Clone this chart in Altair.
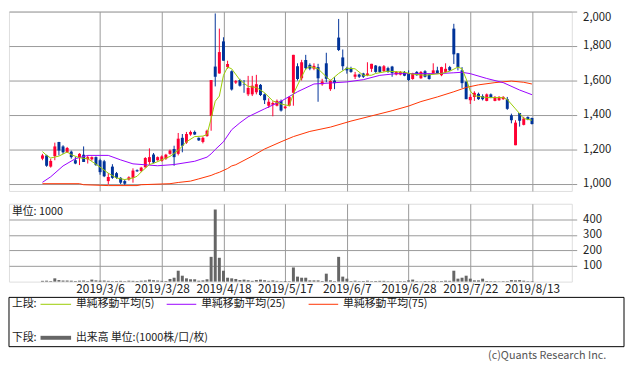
import altair as alt
import pandas as pd

# ---------------- data ----------------
opens  = [1147,1166,1101,1162,1244,1218,1184,1188,1138,1156,1170,1143,1143,1156,1138,1132,1017,1101,1063,1036,
          1017,1026,1036,1080,1076,1097,1128,1171,1138,1134,1147,1175,1203,1175,1268,1240,1287,1302,1268,1244,
          1278,1395,1681,1641,1827,1678,1654,1588,1603,1577,1520,1520,1532,1575,1520,1454,1460,1454,1482,1440,
          1454,1529,1683,1613,1719,1691,1669,1678,1578,1700,1550,1600,1849,1734,1672,1672,1622,1635,1641,1631,
          1668,1687,1681,1655,1672,1681,1635,1635,1650,1641,1609,1650,1613,1654,1635,1641,1659,1631,1650,1678,
          1901,1758,1659,1594,1486,1505,1523,1510,1482,1520,1482,1486,1492,1492,1398,1225,1412,1343,1389,1383]
highs  = [1175,1170,1147,1240,1244,1225,1215,1194,1156,1179,1218,1166,1160,1160,1147,1140,1063,1115,1070,1040,
          1026,1045,1091,1085,1100,1156,1207,1180,1160,1166,1175,1200,1222,1296,1290,1302,1310,1310,1270,1275,
          1315,1603,1989,1901,1851,1715,1659,1603,1610,1603,1627,1627,1633,1580,1525,1497,1480,1490,1490,1455,
          1510,1749,1700,1720,1749,1700,1700,1697,1610,1761,1605,1620,1957,1780,1680,1680,1650,1640,1645,1706,
          1697,1690,1685,1690,1680,1685,1655,1655,1655,1659,1645,1655,1655,1660,1640,1700,1680,1680,1700,1685,
          1929,1760,1678,1595,1520,1538,1530,1520,1525,1525,1510,1510,1510,1505,1408,1370,1412,1390,1392,1385]
lows   = [1138,1100,1095,1138,1166,1175,1180,1147,1115,1110,1128,1119,1135,1105,1054,1040, 998,1030,1030,1000,
           995,1020,1008,1070,1070,1095,1110,1120,1135,1130,1140,1170,1106,1166,1184,1233,1280,1285,1250,1236,
          1274,1309,1566,1640,1715,1668,1542,1580,1565,1529,1510,1510,1520,1510,1464,1441,1393,1450,1420,1435,
          1450,1454,1600,1600,1663,1660,1660,1477,1570,1590,1540,1550,1771,1659,1640,1645,1609,1615,1615,1625,
          1650,1645,1645,1650,1645,1622,1630,1630,1625,1598,1605,1628,1610,1618,1605,1638,1638,1625,1645,1655,
          1696,1659,1557,1492,1464,1482,1488,1485,1480,1498,1480,1482,1488,1430,1352,1225,1333,1340,1370,1345]
closes = [1166,1106,1134,1218,1194,1184,1209,1156,1119,1175,1128,1156,1156,1110,1069,1045,1041,1036,1036,1008,
          1002,1039,1078,1074,1095,1151,1156,1125,1156,1160,1170,1194,1156,1263,1222,1290,1302,1287,1253,1268,
          1309,1603,1622,1765,1715,1696,1548,1597,1570,1575,1557,1570,1579,1516,1486,1477,1470,1482,1426,1449,
          1504,1749,1609,1706,1672,1669,1685,1613,1594,1610,1598,1585,1777,1683,1659,1650,1635,1622,1622,1641,
          1697,1650,1650,1683,1650,1644,1650,1650,1628,1603,1641,1631,1650,1622,1609,1659,1641,1678,1668,1659,
          1752,1678,1585,1492,1505,1529,1492,1492,1520,1501,1505,1505,1505,1436,1370,1356,1367,1380,1374,1348]
volume = [5,6,4,21,10,7,7,6,4,6,7,4,13,8,6,7,5,3,4,5,
          3,6,5,4,6,7,13,9,7,5,4,17,25,70,38,21,15,15,6,8,
          15,159,463,153,70,25,21,17,10,13,9,5,10,13,9,5,8,5,3,4,
          3,91,32,25,25,8,8,8,4,51,8,3,159,32,19,4,6,3,4,6,
          3,4,5,5,3,3,2,3,3,8,13,3,2,4,3,5,3,4,6,5,
          70,19,25,38,19,8,8,19,4,3,3,2,3,3,10,8,10,6,3,3]

ma5_idx = [0,1,2,4,6,7,9,11,13,14,16,18,20,22,23,24,26,27,29,31,33,35,37,39,40,41,42,43,44,45,46,48,50,52,54,56,
           58,60,61,63,64,65,67,69,70,72,74,76,78,80,81,84,88,90,93,97,99,101,102,103,104,105,108,112,113,115,116,117,119]
ma5_val = [1188,1166,1151,1162,1186,1170,1152,1147,1115,1098,1063,1035,1026,1035,1045,1070,1113,1120,1140,1160,1195,1245,
           1275,1278,1287,1380,1480,1510,1630,1678,1668,1603,1566,1560,1529,1482,1464,1454,1523,1622,1668,1681,1668,
           1622,1600,1641,1672,1668,1630,1631,1641,1654,1648,1637,1631,1641,1654,1678,1668,1610,1540,1512,1501,1501,
           1490,1436,1408,1380,1370]
ma25_idx = [0,2,5,8,11,16,19,22,28,32,37,40,41,42,44,46,48,50,54,58,62,66,70,74,78,82,86,90,96,100,102,104,108,112,116,119]
ma25_val = [1010,1042,1105,1147,1166,1166,1140,1117,1106,1113,1132,1156,1175,1200,1245,1315,1355,1390,1436,1480,1535,
            1580,1586,1592,1605,1630,1640,1640,1640,1645,1648,1640,1612,1588,1545,1518]
ma75_idx = [0,9,10,16,23,24,31,33,36,38,41,42,43,45,46,47,51,54,58,61,65,70,75,80,85,89,92,96,100,103,106,110,114,117,119]
ma75_val = [1002,1002,996,991,991,996,1002,1009,1017,1030,1050,1060,1068,1090,1105,1112,1162,1203,1245,1275,1305,1330,
            1365,1395,1425,1452,1478,1505,1535,1560,1575,1588,1597,1590,1580]

tick_idx = [14, 29, 44, 59, 74, 89, 104, 119]
tick_labels = ["2019/3/6", "2019/3/28", "2019/4/18", "2019/5/17", "2019/6/7", "2019/6/28", "2019/7/22", "2019/8/13"]
price_ticks = [1000, 1200, 1400, 1600, 1800, 2000]
vol_ticks = [100, 200, 300, 400]

# ---------------- styling ----------------
RED = "#ff0033"
BLUE = "#003399"
C5 = "#99cc00"
C25 = "#9900ff"
C75 = "#ff3300"
GRID = "#999999"
JP = "Noto Sans CJK JP"

W = 571
X_DOM = [-6.945, 127.48]

n = len(opens)
candles = pd.DataFrame({"idx": list(range(n)), "o": opens, "h": highs, "l": lows, "c": closes, "v": volume})
ma5 = pd.DataFrame({"idx": ma5_idx, "val": ma5_val})
ma25 = pd.DataFrame({"idx": ma25_idx, "val": ma25_val})
ma75 = pd.DataFrame({"idx": ma75_idx, "val": ma75_val})

xscale = alt.Scale(domain=X_DOM, nice=False, zero=False)
label_expr = "[" + ",".join("'%s'" % s for s in tick_labels) + "][indexof([" + ",".join(str(t) for t in tick_idx) + "], datum.value)]"

x_upper = alt.X("idx:Q", scale=xscale, title=None,
                axis=alt.Axis(values=tick_idx, tickCount=40, grid=True, gridColor=GRID, labels=False,
                              ticks=False, domain=False, tickSize=0))
yscale = alt.Scale(domain=[960, 2000], nice=False, zero=False)
y_axis = alt.Axis(orient="right", values=price_ticks, tickCount=40, format=",.0f", grid=True, gridColor=GRID,
                  tickSize=5, tickColor=GRID, domain=False, labelPadding=6, labelFlush=True,
                  labelOverlap=False, labelFont=JP, labelFontSize=11.5, labelColor="#222")

color = alt.Color("dir:N", scale=alt.Scale(domain=["up", "down"], range=[RED, BLUE]), legend=None)

base = alt.Chart(candles).transform_calculate(dir="datum.c >= datum.o ? 'up' : 'down'")
wicks = base.mark_rule(strokeWidth=1).encode(
    x=x_upper, y=alt.Y("l:Q", scale=yscale, axis=y_axis, title=None), y2="h:Q", color=color)
bodies = base.mark_bar(size=3).encode(
    x=x_upper, y=alt.Y("o:Q", scale=yscale, axis=y_axis, title=None), y2="c:Q", color=color)

def ma_line(df, col):
    return alt.Chart(df).mark_line(color=col, strokeWidth=1).encode(
        x=x_upper, y=alt.Y("val:Q", scale=yscale, axis=y_axis, title=None))

upper = alt.layer(wicks, bodies, ma_line(ma75, C75), ma_line(ma25, C25), ma_line(ma5, C5)).properties(
    width=W, height=182)

# ---------------- lower panel ----------------
x_lower = alt.X("idx:Q", scale=xscale, title=None,
                axis=alt.Axis(values=tick_idx, tickCount=40, grid=True, gridColor=GRID, ticks=False, tickSize=0,
                              domain=False, labelExpr=label_expr, labelPadding=2, labelOverlap=False,
                              labelFont=JP, labelFontSize=12, labelColor="#222"))
vol_bars = alt.Chart(candles).mark_bar(size=3, color="#666666").encode(
    x=x_lower,
    y=alt.Y("v:Q", scale=alt.Scale(domain=[0, 500], nice=False), title=None,
            axis=alt.Axis(orient="right", values=vol_ticks, tickCount=40, format=".0f", grid=True,
                          gridColor=GRID, tickSize=5, tickColor=GRID, domain=False, labelPadding=6,
                          labelOverlap=False, labelFont=JP, labelFontSize=11.5, labelColor="#222")))

one = alt.Data(values=[{"k": 1}])

def txt(s, x, y, size=11, align="left", col="#222"):
    return alt.Chart(one).mark_text(text=s, align=align, baseline="middle", font=JP,
                                    fontSize=size, color=col).encode(x=alt.value(x), y=alt.value(y))

def hline(x1, x2, y, col, w=1):
    return alt.Chart(one).mark_rule(color=col, strokeWidth=w).encode(
        x=alt.value(x1), x2=alt.value(x2), y=alt.value(y))

box = alt.Chart(one).mark_rect(fillOpacity=0, stroke="#000000", strokeWidth=1).encode(
    x=alt.value(0), x2=alt.value(624), y=alt.value(95), y2=alt.value(145))

lower = alt.layer(
    vol_bars,
    txt("単位: 1000", 3, 8),
    box,
    txt("上段:", 3, 102),
    hline(32, 63, 102, C5),
    txt("単純移動平均(5)", 68, 102),
    hline(160, 190, 102, C25),
    txt("単純移動平均(25)", 195, 102),
    hline(304, 334, 102, C75),
    txt("単純移動平均(75)", 339, 102),
    txt("下段:", 3, 136),
    hline(32, 63, 136, "#666666", 4),
    txt("出来高 単位:(1000株/口/枚)", 68, 136),
    txt("(c)Quants Research Inc.", 606, 155, size=11, align="right", col="#555555"),
).properties(width=W, height=79)

chart = alt.vconcat(upper, lower, spacing=11).properties(padding=0).configure_view(
    stroke=GRID, strokeWidth=1).configure(background="white")

chart.save("out.html", embed_options={"renderer": "svg", "actions": False})
